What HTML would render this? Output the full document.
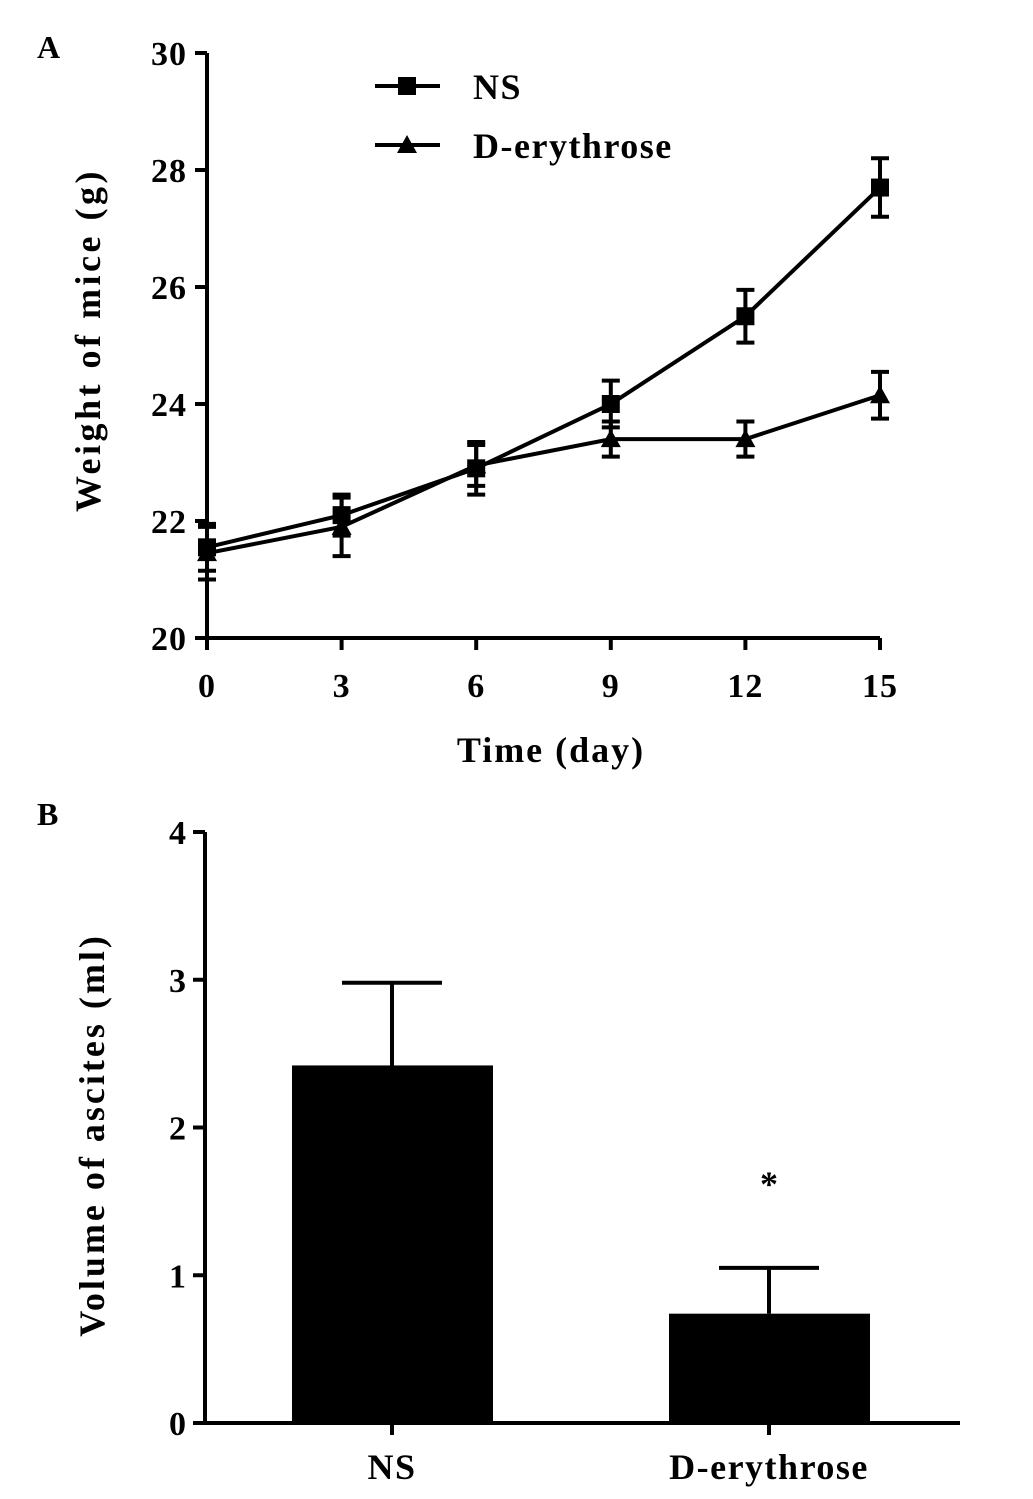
<!DOCTYPE html>
<html><head><meta charset="utf-8"><style>
html,body{margin:0;padding:0;background:#fff;}
svg{display:block;font-family:"Liberation Serif",serif;font-weight:bold;}
</style></head><body>
<svg id="s" width="1033" height="1499" viewBox="0 0 1033 1499">
<text x="37" y="58" font-size="32">A</text>
<text x="37" y="825" font-size="32">B</text>
<g id="ga"></g>
<g id="gb"></g>
</svg>
<script>
const days=[0,3,6,9,12,15];
const nsMean=[21.55,22.1,22.9,24.0,25.5,27.7];
const nsErr=[0.4,0.35,0.45,0.4,0.45,0.5];
const deMean=[21.45,21.9,22.95,23.4,23.4,24.15];
const deErr=[0.45,0.5,0.35,0.3,0.3,0.4];
const yTicksA=[20,22,24,26,28,30];
const barCats=["NS","D-erythrose"];
const barMean=[2.42,0.74];
const barErr=[0.56,0.31];
const yTicksB=[0,1,2,3,4];

const NS="http://www.w3.org/2000/svg";
function mk(p,t,a,txt){const e=document.createElementNS(NS,t);for(const k in a)e.setAttribute(k,a[k]);if(txt!==undefined)e.textContent=txt;p.appendChild(e);return e;}

// Panel A
const ga=document.getElementById('ga');
const xA=d=>207+(d-0)*(880-207)/15;
const yA=v=>638-(v-20)*(638-53)/10;
const st={stroke:'#000','stroke-width':4,fill:'none'};
let ax=mk(ga,'path',Object.assign({d:`M207,53 V638 H880`},st));

yTicksA.forEach(v=>{
 let t=mk(ga,'line',{x1:195,x2:207,y1:yA(v),y2:yA(v),stroke:'#000','stroke-width':4});
 
 let l=mk(ga,'text',{x:187,y:yA(v)+12,'font-size':34,'text-anchor':'end','letter-spacing':1},v);
 
});
days.forEach(d=>{
 let t=mk(ga,'line',{x1:xA(d),x2:xA(d),y1:638,y2:650,stroke:'#000','stroke-width':4});
 
 let l=mk(ga,'text',{x:xA(d),y:697,'font-size':34,'text-anchor':'middle','letter-spacing':1},d);
 
});
let xt=mk(ga,'text',{x:551,y:762,'font-size':36,'text-anchor':'middle','letter-spacing':2},'Time (day)');

let yt=mk(ga,'text',{x:0,y:0,'font-size':36,'text-anchor':'middle','letter-spacing':3.5,transform:'translate(100,340) rotate(-90)'},'Weight of mice (g)');

function series(mean,err,marker,name){
 const g=mk(ga,'g',{});
 
 let ln=mk(g,'polyline',Object.assign({points:days.map((d,i)=>xA(d)+','+yA(mean[i])).join(' ')},st));
 
 days.forEach((d,i)=>{
  const x=xA(d),t=yA(mean[i]+err[i]),b=yA(mean[i]-err[i]);
  let e=mk(g,'path',Object.assign({d:`M${x},${t}V${b}M${x-9},${t}H${x+9}M${x-9},${b}H${x+9}`},st));
  
  const y=yA(mean[i]);
  let m=marker==='sq'?mk(g,'rect',{x:x-9,y:y-9,width:18,height:18,fill:'#000'}):mk(g,'polygon',{points:`${x},${y-10} ${x+10},${y+8} ${x-10},${y+8}`,fill:'#000'});
  
 });
}
series(nsMean,nsErr,'sq','series-ns');
series(deMean,deErr,'tri','series-d-erythrose');
// legend
const lg=mk(ga,'g',{});

mk(lg,'line',{x1:375,x2:440,y1:86,y2:86,stroke:'#000','stroke-width':4});
mk(lg,'rect',{x:398,y:77,width:18,height:18,fill:'#000'});
mk(lg,'text',{x:473,y:99,'font-size':36,'letter-spacing':1.5},'NS');
mk(lg,'line',{x1:375,x2:440,y1:145,y2:145,stroke:'#000','stroke-width':4});
mk(lg,'polygon',{points:'407,135 417,153 397,153',fill:'#000'});
mk(lg,'text',{x:473,y:158,'font-size':36,'letter-spacing':1.5},'D-erythrose');

// Panel B
const gb=document.getElementById('gb');
const yB=v=>1423-v*(1423-832)/4;
const xB=[392,769];
let axb=mk(gb,'path',Object.assign({d:`M205,832 V1423 H960`},st));

yTicksB.forEach(v=>{
 let t=mk(gb,'line',{x1:193,x2:205,y1:yB(v),y2:yB(v),stroke:'#000','stroke-width':4});
 
 let l=mk(gb,'text',{x:186,y:yB(v)+12,'font-size':34,'text-anchor':'end'},v);
 
});
barCats.forEach((c,i)=>{
 const x=xB[i];
 let e=mk(gb,'path',Object.assign({d:`M${x},${yB(barMean[i])}V${yB(barMean[i]+barErr[i])}M${x-50},${yB(barMean[i]+barErr[i])}H${x+50}`},st));
 
 let r=mk(gb,'rect',{x:x-100,y:yB(barMean[i]),width:201,height:yB(0)-yB(barMean[i]),fill:'#000'});
 
 let t=mk(gb,'line',{x1:x,x2:x,y1:1423,y2:1435,stroke:'#000','stroke-width':4});
 
 let l=mk(gb,'text',{x:x,y:1479,'font-size':36,'text-anchor':'middle','letter-spacing':1.5},c);
 
});
let ast=mk(gb,'text',{x:xB[1],y:1196,'font-size':36,'text-anchor':'middle'},'*');

let ytb=mk(gb,'text',{x:0,y:0,'font-size':36,'text-anchor':'middle','letter-spacing':3,transform:'translate(104,1135) rotate(-90)'},'Volume of ascites (ml)');

</script>
</body></html>
